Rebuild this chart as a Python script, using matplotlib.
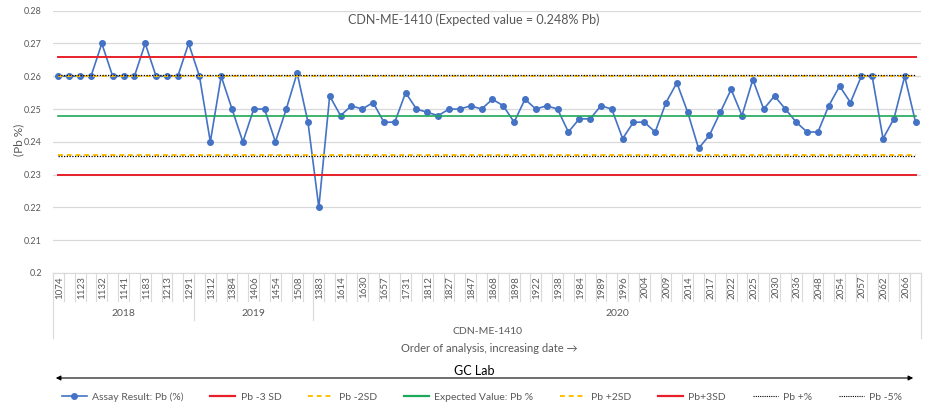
import numpy as np
import matplotlib
matplotlib.use('Agg')
import matplotlib.pyplot as plt
from matplotlib.lines import Line2D
from matplotlib.transforms import blended_transform_factory

plt.rcParams['font.family'] = ['Lato', 'DejaVu Sans']

# Assay results per year (order of analysis)
assay_2018 = [0.26, 0.26, 0.26, 0.26, 0.27, 0.26, 0.26, 0.26, 0.27, 0.26, 0.26, 0.26, 0.27]
assay_2019 = [0.26, 0.24, 0.26, 0.25, 0.24, 0.25, 0.25, 0.24, 0.25, 0.261, 0.246]
assay_2020 = [0.22, 0.254, 0.248, 0.251, 0.250, 0.252, 0.246, 0.246, 0.255, 0.250,
              0.249, 0.248, 0.250, 0.250, 0.251, 0.250, 0.253, 0.251, 0.246, 0.253,
              0.250, 0.251, 0.250, 0.243, 0.247, 0.247, 0.251, 0.250, 0.241, 0.246,
              0.246, 0.243, 0.252, 0.258, 0.249, 0.238, 0.242, 0.249, 0.256, 0.248,
              0.259, 0.250, 0.254, 0.250, 0.246, 0.243, 0.243, 0.251, 0.257, 0.252,
              0.260, 0.260, 0.241, 0.247, 0.260, 0.246]

# Sample numbers shown on the axis (every second point)
sample_labels = ['1074', '1123', '1132', '1141', '1183', '1213', '1291',
                 '1312', '1384', '1406', '1454', '1508',
                 '1383', '1614', '1630', '1657', '1731', '1812', '1827', '1847',
                 '1868', '1898', '1922', '1938', '1984', '1989', '1996', '2004',
                 '2009', '2014', '2017', '2022', '2025', '2030', '2036', '2048',
                 '2054', '2057', '2062', '2066']
years = ['2018', '2019', '2020']
yticks = [0.2, 0.21, 0.22, 0.23, 0.24, 0.25, 0.26, 0.27, 0.28]

expected = 0.248
sd = 0.006
pct = 0.05

assay = assay_2018 + assay_2019 + assay_2020
n = len(assay)
x = np.arange(n)
year_sizes = [len(assay_2018), len(assay_2019), len(assay_2020)]

W, H = 948, 412
def fy(py):
    return 1 - py / H

blue = '#4472C4'
red = '#E8202A'
green = '#1EA85A'
yellow = '#FFC000'
grey_txt = '#595959'
grid_c = '#D9D9D9'

fig = plt.figure(figsize=(W / 100, H / 100), dpi=100)
ax = fig.add_axes((53 / W, fy(273), (921 - 53) / W, (273 - 10.7) / H))

ax.plot(x, assay, color=blue, lw=1.2, marker='o', ms=4, zorder=3)
ones = np.ones(n)
ax.plot(x, ones * (expected - 3 * sd), color=red, lw=1.4, zorder=4)
ax.plot(x, ones * (expected - 2 * sd), color=yellow, lw=1.4, ls=(0, (2.5, 2)), zorder=4)
ax.plot(x, ones * expected, color=green, lw=1.2, zorder=4)
ax.plot(x, ones * (expected + 2 * sd), color=yellow, lw=1.4, ls=(0, (2.5, 2)), zorder=4)
ax.plot(x, ones * (expected + 3 * sd), color=red, lw=1.4, zorder=4)
ax.plot(x, ones * expected * (1 + pct), color='black', lw=0.9, ls=(0, (1, 1.2)), zorder=5)
ax.plot(x, ones * expected * (1 - pct), color='black', lw=0.9, ls=(0, (1, 1.2)), zorder=5)

ax.set_xlim(-0.5, n - 0.5)
ax.set_ylim(0.2, 0.28)
ax.set_yticks(yticks)
ax.set_yticklabels([f'{v:g}' for v in yticks])
ax.yaxis.grid(True, color=grid_c, lw=0.9)
ax.set_axisbelow(True)
for s in ['top', 'right', 'left']:
    ax.spines[s].set_visible(False)
ax.spines['bottom'].set_color(grid_c)
ax.tick_params(axis='y', length=0, labelsize=6.5, labelcolor=grey_txt, pad=8)
ax.tick_params(axis='x', bottom=False, labelbottom=False)

# Multi-level category axis below the plot
tr = blended_transform_factory(ax.transData, fig.transFigure)
for k in range(n + 1):
    fig.add_artist(Line2D([k - 0.5, k - 0.5], [fy(273), fy(301)], transform=tr, color=grid_c, lw=0.8))
for i, lab in enumerate(sample_labels):
    fig.text(2 * i + 0.1, fy(276), lab, transform=tr, rotation=90, ha='center', va='top',
             fontsize=7, color=grey_txt)

edges = np.cumsum([0] + year_sizes) - 0.5
for e in edges:
    bottom = 338 if e in (edges[0], edges[-1]) else 320
    fig.add_artist(Line2D([e, e], [fy(273), fy(bottom)], transform=tr, color=grid_c, lw=0.8))
for i, yr in enumerate(years):
    fig.text((edges[i] + edges[i + 1]) / 2, fy(313), yr, transform=tr, ha='center', va='center',
             fontsize=7.5, color=grey_txt)
fig.text((edges[0] + edges[-1]) / 2, fy(332), 'CDN-ME-1410', transform=tr, ha='center', va='center',
         fontsize=7.5, color=grey_txt)

fig.text(489 / W, fy(349), 'Order of analysis, increasing date \u2192', ha='center', va='center',
         fontsize=8, color=grey_txt)
fig.text(0.5, fy(20), 'CDN-ME-1410 (Expected value = 0.248% Pb)', ha='center', va='center',
         fontsize=9, color=grey_txt)
fig.text(19 / W, fy(140), '(Pb %)', rotation=90, ha='center', va='center', fontsize=8.5, color=grey_txt)

# GC Lab arrow
fig.text(474 / W, fy(371), 'GC Lab', ha='center', va='center', fontsize=9, color='black')
ax.annotate('', xy=(53 / W, fy(378)), xytext=(916 / W, fy(378)), xycoords='figure fraction',
            textcoords='figure fraction',
            arrowprops=dict(arrowstyle='<|-|>', color='black', lw=0.8, mutation_scale=7))

handles = [
    Line2D([], [], color=blue, lw=1.2, marker='o', ms=4),
    Line2D([], [], color=red, lw=1.6),
    Line2D([], [], color=yellow, lw=1.4, ls=(0, (2.5, 2))),
    Line2D([], [], color=green, lw=1.6),
    Line2D([], [], color=yellow, lw=1.4, ls=(0, (2.5, 2))),
    Line2D([], [], color=red, lw=1.6),
    Line2D([], [], color='black', lw=0.8, ls=(0, (1, 1))),
    Line2D([], [], color='black', lw=0.8, ls=(0, (1, 1))),
]
names = ['Assay Result: Pb (%)', 'Pb -3 SD', 'Pb -2SD', 'Expected Value: Pb %',
         'Pb +2SD', 'Pb+3SD', 'Pb +%', 'Pb -5%']
fig.legend(handles, names, loc='center', bbox_to_anchor=(482 / W, fy(397)), ncol=8, frameon=False,
           fontsize=7.5, labelcolor=grey_txt, handlelength=2.4, handletextpad=0.5, columnspacing=2.6)

fig.savefig('out.png', dpi=100)
